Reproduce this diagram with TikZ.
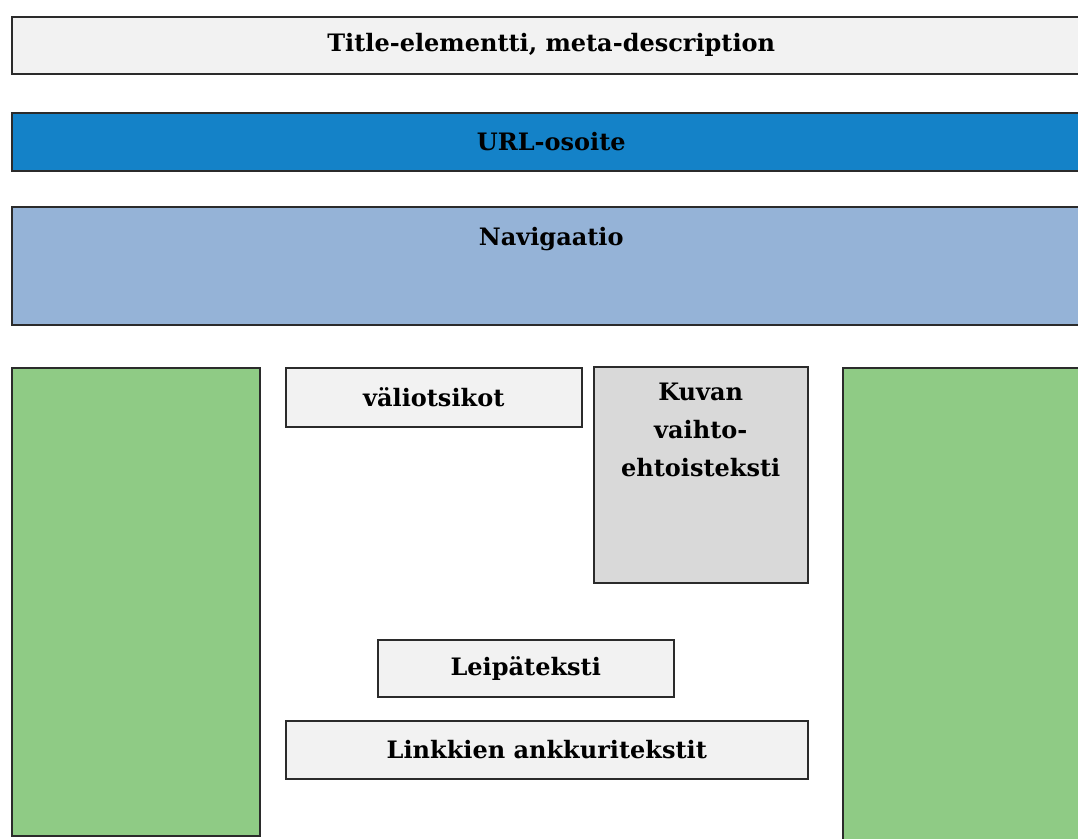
\documentclass[tikz,border=0pt]{standalone}
\usepackage{fontspec}
\setmainfont{DejaVu Serif}
\definecolor{paleGray}{HTML}{F2F2F2}
\definecolor{urlBlue}{HTML}{1482C8}
\definecolor{navBlue}{HTML}{95B3D7}
\definecolor{sideGreen}{HTML}{8FCB85}
\definecolor{imgGray}{HTML}{D9D9D9}
\definecolor{edgeGray}{HTML}{2B2B2B}
\tikzset{
  lbl/.style={font=\fontsize{24}{38}\selectfont\bfseries},
  block/.style={draw=edgeGray, line width=1.5pt, anchor=north west, inner sep=0pt, lbl},
  bar/.style={block, minimum width=1079pt},
  sidebar/.style={block, fill=sideGreen, minimum width=248pt, minimum height=468pt},
  textbox/.style={block, fill=paleGray}
}
\begin{document}
\begin{tikzpicture}[x=1pt,y=-1pt]
  \useasboundingbox (0,0) rectangle (1078,838);
  \clip (0,0) rectangle (1078,838);

  % Ylaosa
  \node[bar, fill=paleGray, minimum height=57pt] (title) at (11,16) {Title-elementti, meta-description};
  \node[bar, fill=urlBlue, minimum height=58pt] (url) at (11,112) {URL-osoite};
  \node[bar, fill=navBlue, minimum height=118pt] (nav) at (11,206) {};
  \node[lbl] (navtext) at ([yshift=-33pt]nav.north) {Navigaatio};

  % Sivupalkit
  \node[sidebar] (left) at (11,367) {};
  \node[sidebar, minimum height=480pt] (right) at (842,367) {};

  % Sisalto
  \node[textbox, minimum width=296pt, minimum height=59pt] (valiots) at (285,367) {v\"aliotsikot};
  \node[block, fill=imgGray, minimum width=214pt, minimum height=216pt] (kuva) at (593,366) {};
  \node[lbl, align=center, anchor=north] (kuvatext) at ([yshift=-13pt]kuva.north)
    {Kuvan\\vaihto-\\ehtoisteksti};
  \node[textbox, minimum width=296pt, minimum height=57pt] (leipa) at (377,639) {Leip\"ateksti};
  \node[textbox, minimum width=522pt, minimum height=58pt] (linkit) at (285,720) {Linkkien ankkuritekstit};
\end{tikzpicture}
\end{document}
